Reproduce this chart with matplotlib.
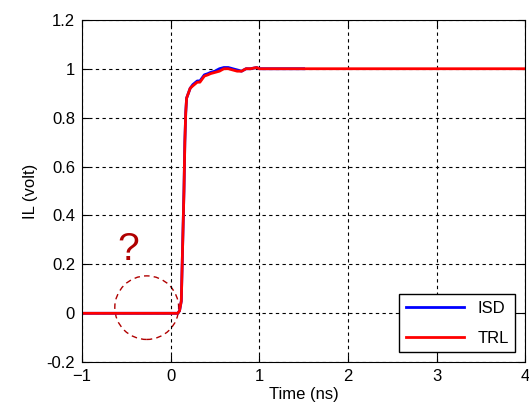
import matplotlib.pyplot as plt
from matplotlib.patches import Ellipse

plt.rcParams['font.family'] = ['Liberation Sans', 'DejaVu Sans']

# datos
t_trl = [-1, 0.08, 0.1, 0.12, 0.13, 0.14, 0.15, 0.16, 0.17, 0.18, 0.2, 0.22, 0.25, 0.3,
         0.33, 0.38, 0.42, 0.45, 0.5, 0.55, 0.6, 0.65, 0.7, 0.75, 0.8, 0.85, 0.9,
         0.97, 1.0, 1.2, 1.5, 4]
v_trl = [0, 0, 0.01, 0.05, 0.2, 0.35, 0.5, 0.7, 0.82, 0.88, 0.9, 0.92, 0.93, 0.945,
         0.945, 0.97, 0.975, 0.98, 0.985, 0.99, 1.0, 1.0, 0.995, 0.99, 0.99, 1.0, 1.0,
         1.005, 1.0, 1.0, 1.0, 1.0]

t_isd = [-1, 0.08, 0.1, 0.12, 0.13, 0.14, 0.15, 0.16, 0.17, 0.18, 0.2, 0.22, 0.25, 0.3,
         0.33, 0.38, 0.42, 0.45, 0.5, 0.55, 0.6, 0.65, 0.7, 0.75, 0.8, 0.85, 0.9,
         0.97, 1.0, 1.2, 1.5]
v_isd = [0, 0, 0.01, 0.05, 0.2, 0.35, 0.5, 0.7, 0.82, 0.88, 0.9, 0.92, 0.935, 0.95,
         0.95, 0.975, 0.98, 0.985, 0.99, 1.0, 1.005, 1.005, 1.0, 0.995, 0.99, 1.0, 1.0,
         1.005, 1.0, 1.0, 1.0]

xticks = [-1, 0, 1, 2, 3, 4]
yticks = [-0.2, 0, 0.2, 0.4, 0.6, 0.8, 1, 1.2]
ytick_labels = ['-0.2', '0', '0.2', '0.4', '0.6', '0.8', '1', '1.2']

fig = plt.figure(figsize=(5.29, 4.13), dpi=100)
ax = fig.add_axes([0.155, 0.123, 0.838, 0.829])

ax.plot(t_isd, v_isd, color='blue', lw=2, label='ISD')
ax.plot(t_trl, v_trl, color='red', lw=2, label='TRL')

ax.set_xlim(-1, 4)
ax.set_ylim(-0.2, 1.2)
ax.set_xticks(xticks)
ax.set_yticks(yticks)
ax.set_yticklabels(ytick_labels)
ax.tick_params(direction='in', top=True, right=True, labelsize=12, length=5, pad=5)
ax.grid(True, color='black', linestyle=(0, (3, 3)), lw=0.8)
ax.set_xlabel('Time (ns)', fontsize=12, labelpad=2)
ax.set_ylabel('IL (volt)', fontsize=12, labelpad=6)

# circulo y signo de interrogacion
ax.add_patch(Ellipse((-0.27, 0.023), 0.72, 0.26, fill=False, edgecolor='#b00000',
                     linestyle=(0, (4, 3)), lw=1))
ax.text(-0.48, 0.26, '?', color='#b00000', fontsize=28, ha='center', va='center')

leg = ax.legend(loc='lower right', fontsize=12, fancybox=False, edgecolor='black',
                handlelength=3.5, labelspacing=0.9, borderaxespad=0.6, framealpha=1)
leg.get_frame().set_linewidth(1)

fig.savefig('out.png', dpi=100)
